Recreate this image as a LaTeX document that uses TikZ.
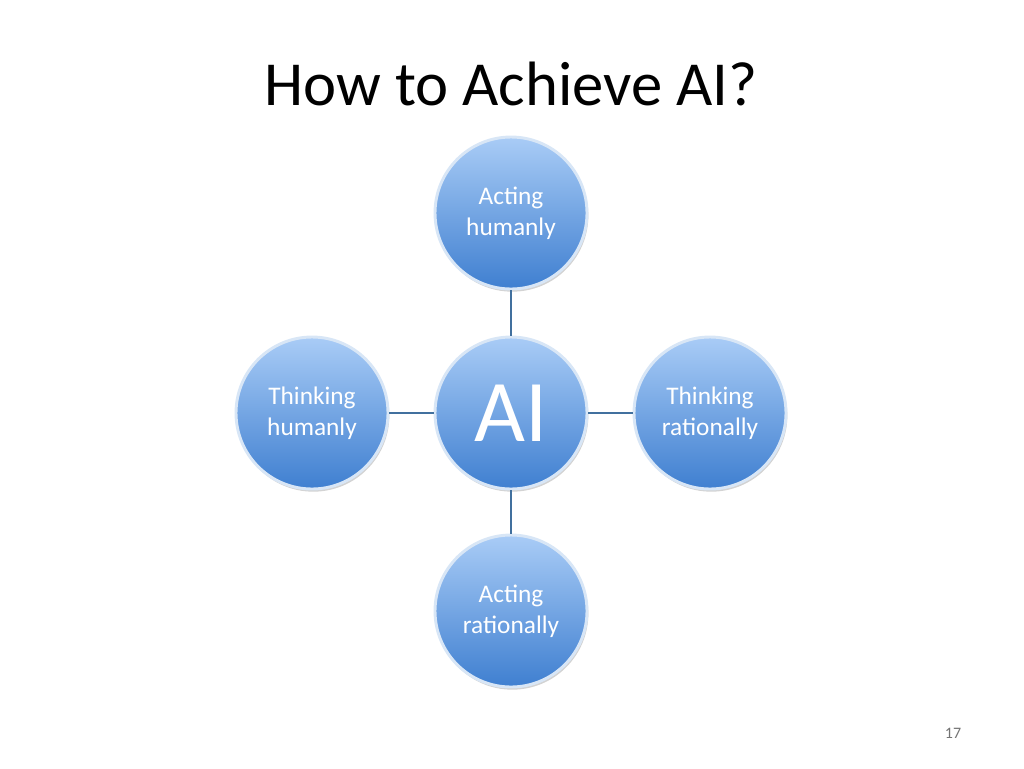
\documentclass[tikz,border=0pt]{standalone}
\usepackage{fontspec}
\setmainfont{Carlito}
\usetikzlibrary{shadows}
\definecolor{balltop}{HTML}{A9CCF6}
\definecolor{ballbot}{HTML}{3F7FD0}
\definecolor{ballrim}{HTML}{D8E6F6}
\definecolor{linkblue}{HTML}{41709E}
\tikzset{
  ball/.style={circle, minimum size=114pt, inner sep=0pt, align=center,
    top color=balltop, bottom color=ballbot, draw=ballrim, line width=2.2pt,
    text=white, font=\fontsize{19}{23}\selectfont,
    drop shadow={shadow xshift=1pt, shadow yshift=-2pt, opacity=0.35}},
  link/.style={draw=linkblue, line width=1.6pt}
}
\begin{document}
\begin{tikzpicture}[x=0.75pt,y=-0.75pt]
\useasboundingbox (0,0) rectangle (1024,768);

% Title and page number
\node (title) at (511,84) {\fontsize{47}{56}\selectfont How to Achieve AI?};
\node[text=black!55] (page) at (953,733) {\fontsize{12}{14}\selectfont 17};

% Circles
\node[ball] (ai) at (511,413) {\fontsize{66}{70}\selectfont AI};
\node[ball] (acthum) at (511,213) {Acting\\humanly};
\node[ball] (thinkhum) at (312,413) {Thinking\\humanly};
\node[ball] (thinkrat) at (710,413) {Thinking\\rationally};
\node[ball] (actrat) at (511,611) {Acting\\rationally};

% Connectors
\draw[link] (ai) -- (acthum);
\draw[link] (ai) -- (thinkhum);
\draw[link] (ai) -- (thinkrat);
\draw[link] (ai) -- (actrat);
\end{tikzpicture}
\end{document}
